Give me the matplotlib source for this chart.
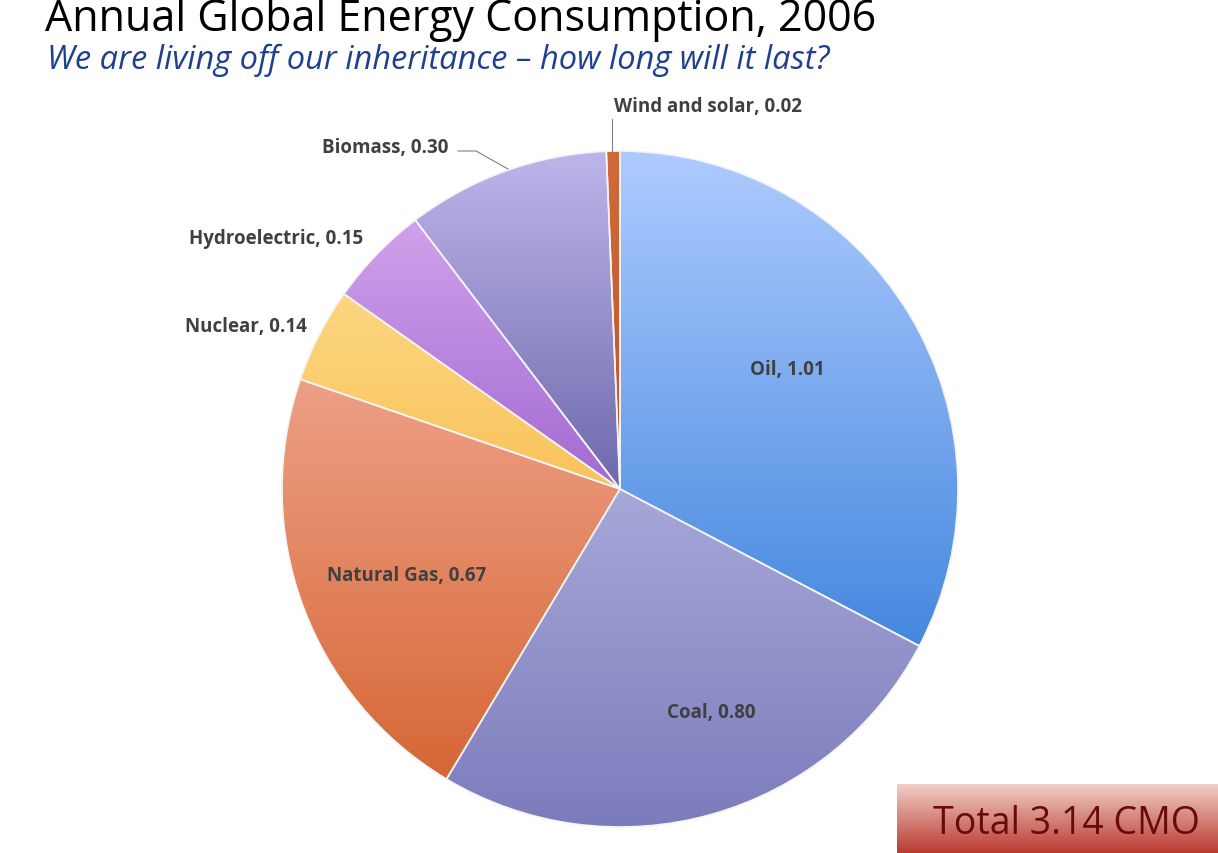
import numpy as np
import matplotlib.pyplot as plt
from matplotlib.colors import LinearSegmentedColormap
from matplotlib.patches import Rectangle

sources = ["Oil", "Coal", "Natural Gas", "Nuclear", "Hydroelectric", "Biomass", "Wind and solar"]
values = [1.01, 0.80, 0.67, 0.14, 0.15, 0.30, 0.02]
top_colors = ["#aecbff", "#d2d3f7", "#fbc0b4", "#ffe49a", "#dcb0f2", "#bdb5ea", "#d06a3a"]
bottom_colors = ["#1e6fd2", "#7c7cbc", "#d3602c", "#f3a21c", "#6a22b0", "#1e1c70", "#a84018"]
label_pos = [(787, 370), (711, 713), (407, 576), (246, 327), (276, 239), (385, 148), (708, 107)]

W, H = 1218, 854
cx, cy, r = 620, 490, 338

fig = plt.figure(figsize=(W / 100, H / 100), dpi=100)
ax = fig.add_axes([0, 0, 1, 1])

wedges, _ = ax.pie(values, center=(cx, H - cy), radius=r, startangle=90,
                   counterclock=False, frame=True,
                   wedgeprops=dict(edgecolor="#f4f4f4", linewidth=1.2))
ax.set_xlim(0, W)
ax.set_ylim(0, H)
ax.set_aspect("equal")
ax.axis("off")

grad = np.linspace(0, 1, 256).reshape(-1, 1)
for w, c0, c1 in zip(wedges, top_colors, bottom_colors):
    w.set_facecolor("none")
    cmap = LinearSegmentedColormap.from_list("g", [c1, c0])
    im = ax.imshow(grad, cmap=cmap, origin="lower", aspect="auto",
                   extent=(cx - r, cx + r, H - cy - r, H - cy + r), zorder=1)
    im.set_clip_path(w)
    w.set_zorder(2)

for name, v, (x, y) in zip(sources, values, label_pos):
    ax.text(x, H - y, f"{name}, {v:.2f}", ha="center", va="center",
            fontsize=13.5, fontweight="bold", color="#404040", family="Open Sans", zorder=5)

# leader lines for small slices
ax.plot([458, 476, 508], [H - 152, H - 152, H - 170], color="#808080", lw=0.8, zorder=4)
ax.plot([612, 612], [H - 120, H - 152], color="#808080", lw=0.8, zorder=4)

ax.text(45, H - 20, "Annual Global Energy Consumption, 2006", fontsize=31,
        family="Open Sans", color="black", va="center", ha="left")
ax.text(47, H - 60, "We are living off our inheritance \u2013 how long will it last?",
        fontsize=23.5, style="italic", family="Open Sans", color="#1f3f8f", va="center", ha="left")

# total box with gradient
box = Rectangle((897, 0), W - 897, H - 785, transform=ax.transData, facecolor="none")
ax.add_patch(box)
bcmap = LinearSegmentedColormap.from_list("b", ["#b83a30", "#f0d0c8"])
bim = ax.imshow(np.linspace(0, 1, 256).reshape(-1, 1), cmap=bcmap, origin="lower",
                aspect="auto", extent=(897, W, 0, H - 785), zorder=1)
bim.set_clip_path(box)
ax.text(1066, 30, "Total 3.14 CMO", fontsize=27, family="Open Sans",
        color="#6b0a0a", ha="center", va="center", zorder=5)

fig.savefig("out.png", dpi=100)
